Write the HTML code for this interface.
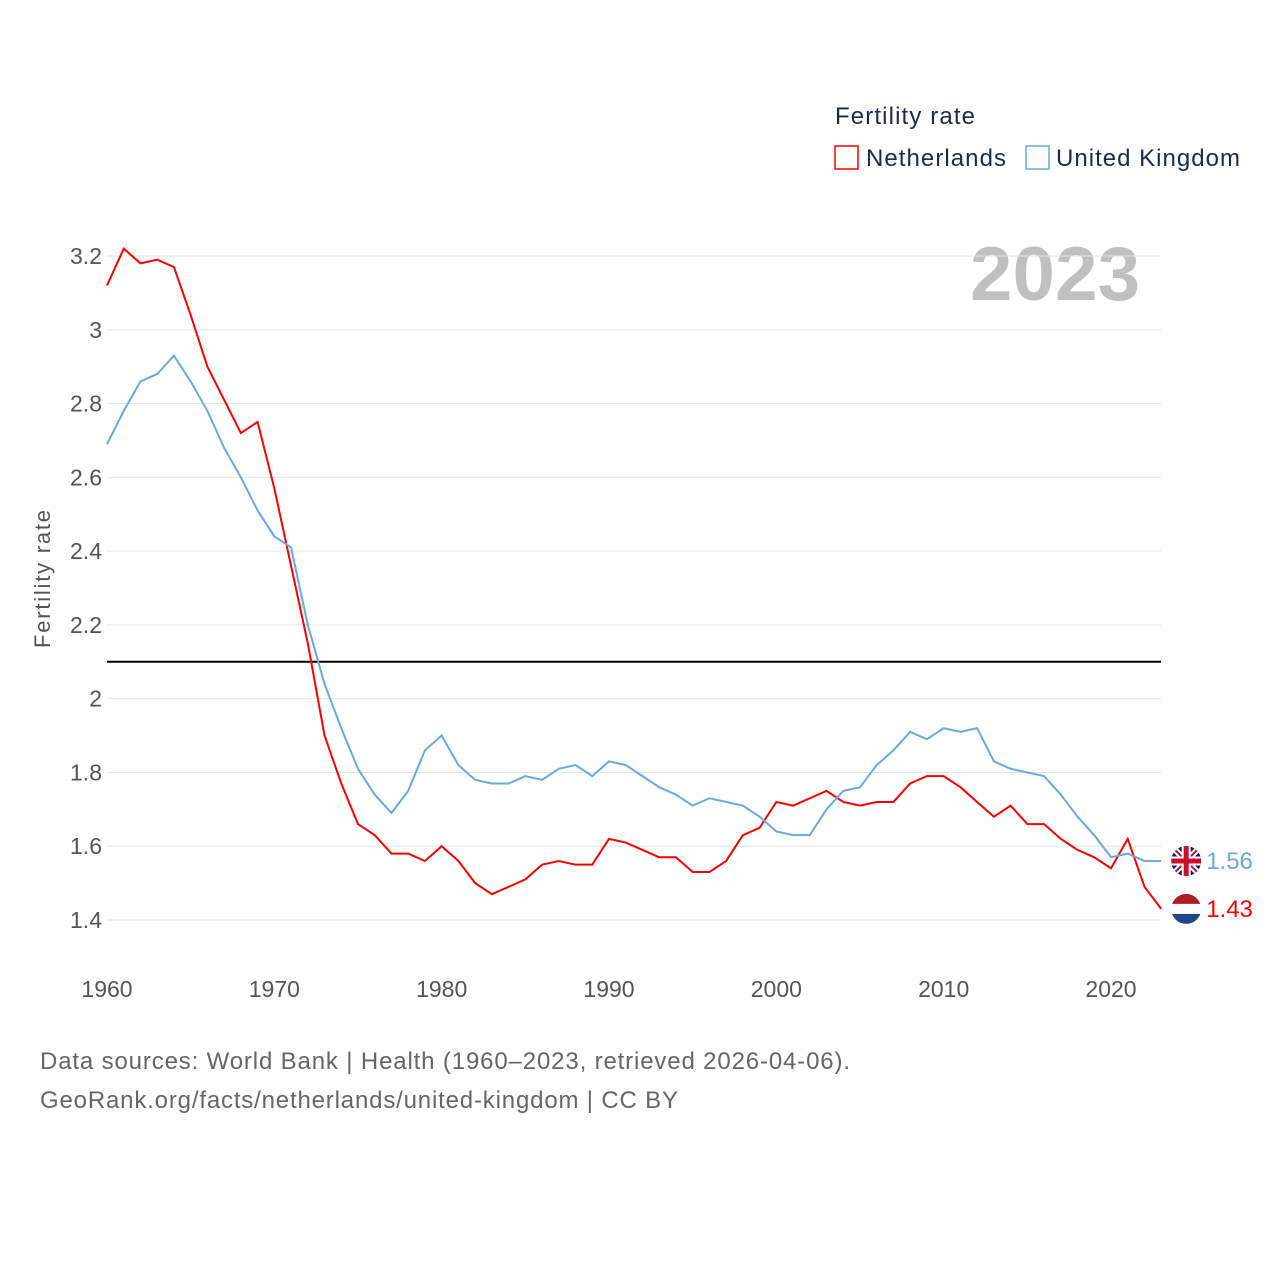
<!DOCTYPE html>
<html><head><meta charset="utf-8">
<style>
body{margin:0;background:#fff;font-family:"Liberation Sans",sans-serif;}
svg text{font-family:"Liberation Sans",sans-serif;}
</style></head>
<body>
<svg id="chart" width="1280" height="1280" viewBox="0 0 1280 1280">
<text x="835" y="124" font-size="24" fill="#1a2b4c" textLength="140">Fertility rate</text>
<g><rect x="835" y="146" width="23" height="23" fill="none" stroke="#f00" stroke-width="1.5"/><text x="866" y="166" font-size="24" fill="#1a2b4c" textLength="140">Netherlands</text></g>
<g><rect x="1026" y="146" width="23" height="23" fill="none" stroke="#6aa9e6" stroke-width="1.5"/><text x="1056" y="166" font-size="24" fill="#1a2b4c" textLength="184">United Kingdom</text></g>
<text x="970" y="300" font-size="76" font-weight="bold" fill="#c0c0c0" textLength="170">2023</text>
<g id="grid"></g><g id="yticks"></g><g id="xticks"></g><g id="lines"></g>
<text transform="translate(50,579) rotate(-90)" font-size="22" fill="#555" text-anchor="middle" textLength="138">Fertility rate</text>
<text x="40" y="1069" font-size="24" fill="#666" textLength="810">Data sources: World Bank | Health (1960–2023, retrieved 2026-04-06).</text>
<text x="40" y="1108" font-size="24" fill="#666" textLength="638">GeoRank.org/facts/netherlands/united-kingdom | CC BY</text>
</svg>
<script>
const years=[];for(let y=1960;y<=2023;y++)years.push(y);
const netherlands=[3.12,3.22,3.18,3.19,3.17,3.04,2.90,2.81,2.72,2.75,2.57,2.36,2.15,1.90,1.77,1.66,1.63,1.58,1.58,1.56,1.60,1.56,1.50,1.47,1.49,1.51,1.55,1.56,1.55,1.55,1.62,1.61,1.59,1.57,1.57,1.53,1.53,1.56,1.63,1.65,1.72,1.71,1.73,1.75,1.72,1.71,1.72,1.72,1.77,1.79,1.79,1.76,1.72,1.68,1.71,1.66,1.66,1.62,1.59,1.57,1.54,1.62,1.49,1.43];
const unitedKingdom=[2.69,2.78,2.86,2.88,2.93,2.86,2.78,2.68,2.60,2.51,2.44,2.41,2.20,2.04,1.92,1.81,1.74,1.69,1.75,1.86,1.90,1.82,1.78,1.77,1.77,1.79,1.78,1.81,1.82,1.79,1.83,1.82,1.79,1.76,1.74,1.71,1.73,1.72,1.71,1.68,1.64,1.63,1.63,1.70,1.75,1.76,1.82,1.86,1.91,1.89,1.92,1.91,1.92,1.83,1.81,1.80,1.79,1.74,1.68,1.63,1.57,1.58,1.56,1.56];
const yTicks=[1.4,1.6,1.8,2,2.2,2.4,2.6,2.8,3,3.2];
const xTicks=[1960,1970,1980,1990,2000,2010,2020];
const refLine=[2.1];
const X=y=>107+(y-1960)*(1111-107)/60;
const Y=v=>256+(3.2-v)*(920-256)/1.8;
const NS='http://www.w3.org/2000/svg';
function mk(t,a,p){const e=document.createElementNS(NS,t);for(const k in a)e.setAttribute(k,a[k]);document.getElementById(p).appendChild(e);return e;}
yTicks.forEach(v=>{
 const l=mk('line',{x1:107,x2:1161,y1:Y(v),y2:Y(v),stroke:'#e6e6e6','stroke-width':1},'grid');
 
 
 const t=mk('text',{x:102,y:Y(v)+8,'font-size':23,fill:'#555','text-anchor':'end'},'yticks');t.textContent=String(v);
 
 
});
xTicks.forEach(v=>{
 const t=mk('text',{x:X(v),y:997,'font-size':23,fill:'#555','text-anchor':'middle'},'xticks');t.textContent=String(v);
 
 
});
refLine.forEach(v=>{
 const l=mk('line',{x1:107,x2:1161,y1:Y(v),y2:Y(v),stroke:'#000','stroke-width':2},'lines');
 
 
});
function series(d,c,name){
 const p=mk('polyline',{points:d.map((v,i)=>X(years[i])+','+Y(v)).join(' '),fill:'none',stroke:c,'stroke-width':2},'lines');
 
 
 const last=d[d.length-1],lx=X(years[years.length-1])+25,ly=Y(last);
 const t=mk('text',{x:lx+20,y:ly+8,'font-size':24,fill:c},'lines');t.textContent=last.toFixed(2);
 
 
 return [lx,ly];
}
const [nx,ny]=series(netherlands,'#f00','netherlands');
const [ux,uy]=series(unitedKingdom,'#6aa9e6','united-kingdom');
const nl=mk('g',{},'lines');


nl.innerHTML=`<clipPath id="c1"><circle cx="${nx}" cy="${ny}" r="15"/></clipPath><g clip-path="url(#c1)"><rect x="${nx-15}" y="${ny-15}" width="30" height="10" fill="#ae1c28"/><rect x="${nx-15}" y="${ny-5}" width="30" height="10" fill="#fff"/><rect x="${nx-15}" y="${ny+5}" width="30" height="10" fill="#21468b"/></g>`;
const uk=mk('g',{},'lines');


uk.innerHTML=`<clipPath id="c2"><circle cx="${ux}" cy="${uy}" r="15"/></clipPath><g clip-path="url(#c2)"><rect x="${ux-15}" y="${uy-15}" width="30" height="30" fill="#012169"/><path d="M${ux-15} ${uy-15}L${ux+15} ${uy+15}M${ux+15} ${uy-15}L${ux-15} ${uy+15}" stroke="#fff" stroke-width="6"/><path d="M${ux-15} ${uy-15}L${ux+15} ${uy+15}M${ux+15} ${uy-15}L${ux-15} ${uy+15}" stroke="#c8102e" stroke-width="2"/><path d="M${ux} ${uy-15}V${uy+15}M${ux-15} ${uy}H${ux+15}" stroke="#fff" stroke-width="9"/><path d="M${ux} ${uy-15}V${uy+15}M${ux-15} ${uy}H${ux+15}" stroke="#c8102e" stroke-width="5"/></g>`;
</script>
</body></html>
